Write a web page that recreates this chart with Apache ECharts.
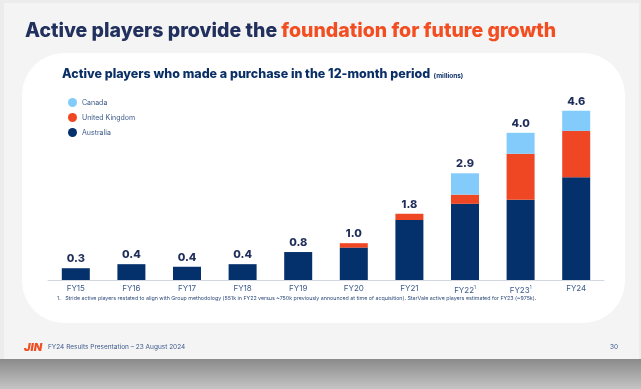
<!DOCTYPE html>
<html>
<head>
<meta charset="utf-8">
<script src="https://cdn.jsdelivr.net/npm/echarts@6/dist/echarts.min.js"></script>
<style>
  html, body { margin: 0; padding: 0; background: #ececec; }
  #chart { width: 641px; height: 389px; }
</style>
</head>
<body>
<div id="chart"></div>
<script>
// Financial years on the x axis (a trailing "1" marks the footnote)
const years = ['FY15', 'FY16', 'FY17', 'FY18', 'FY19', 'FY20', 'FY21', 'FY22', 'FY23', 'FY24'];
const footnoted = ['FY22', 'FY23'];

// Active players by region, millions
const australia = [0.32, 0.43, 0.36, 0.43, 0.76, 0.88, 1.63, 2.07, 2.18, 2.79];
const unitedKingdom = [0, 0, 0, 0, 0, 0.12, 0.17, 0.25, 1.25, 1.26];
const canada = [0, 0, 0, 0, 0, 0, 0, 0.58, 0.57, 0.55];

const totals = years.map((_, i) => australia[i] + unitedKingdom[i] + canada[i]);

const NAVY = '#04306b';
const ORANGE = '#ef4723';
const SKY = '#83cbfb';
const FONT = 'Inter, "Noto Sans", sans-serif';

const chart = echarts.init(document.getElementById('chart'), null, { renderer: 'canvas' });

chart.setOption({
  animation: false,
  backgroundColor: '#ececec',
  textStyle: { fontFamily: FONT },
  graphic: [
    // drop shadow under the slide
    { type: 'rect', z: -10, shape: { x: 0, y: 359, width: 641, height: 30 },
      style: { fill: new echarts.graphic.LinearGradient(0, 0, 0, 1, [
        { offset: 0, color: '#8a8a8a' }, { offset: 1, color: '#c4c4c4' }]) } },
    // slide
    { type: 'rect', z: -9, shape: { x: 4, y: 3, width: 635, height: 356 },
      style: { fill: '#f4f4f4' } },
    // white panel
    { type: 'rect', z: -8, shape: { x: 22, y: 53, width: 603, height: 270, r: 42 },
      style: { fill: '#ffffff' } },
    // heading
    { type: 'text', z: 5, left: 25, top: 21,
      style: { text: '{a|Active players provide the }{b|foundation for future growth}',
        rich: {
          a: { fontFamily: FONT, fontSize: 19.5, fontWeight: 800, fill: '#22305e' },
          b: { fontFamily: FONT, fontSize: 19.5, fontWeight: 800, fill: '#f24e22' }
        } } },
    // panel title
    { type: 'text', z: 5, left: 62, top: 68,
      style: { text: '{a|Active players who made a purchase in the 12-month period} {b|(millions)}',
        rich: {
          a: { fontFamily: FONT, fontSize: 12.5, fontWeight: 800, fill: '#0a2f66' },
          b: { fontFamily: FONT, fontSize: 6.5, fontWeight: 700, fill: '#0a2f66', padding: [4, 0, 0, 0] }
        } } },
    // footnote
    { type: 'text', z: 5, left: 57, top: 296,
      style: { text: '1.   Stride active players restated to align with Group methodology (551k in FY22 versus ~750k previously announced at time of acquisition). StarVale active players estimated for FY23 (~975k).',
        fontFamily: FONT, fontSize: 5.3, fill: '#2d4a7a' } },
    // footer logo mark
    { type: 'text', z: 5, left: 24, top: 342,
      style: { text: 'JIN', fontFamily: FONT, fontSize: 11, fontWeight: 900, fontStyle: 'italic', fill: '#f04e23' } },
    // footer caption
    { type: 'text', z: 5, left: 48, top: 344,
      style: { text: 'FY24 Results Presentation \u2013 23 August 2024', fontFamily: FONT, fontSize: 6.5, fill: '#3d5a8a' } },
    { type: 'text', z: 5, left: 610, top: 344,
      style: { text: '30', fontFamily: FONT, fontSize: 6.5, fill: '#3d5a8a' } }
  ],
  legend: {
    data: ['Canada', 'United Kingdom', 'Australia'],
    orient: 'vertical',
    left: 63, top: 93,
    icon: 'circle',
    itemWidth: 9, itemHeight: 9, itemGap: 6,
    textStyle: { fontFamily: FONT, fontSize: 7, color: '#3d5a8a' },
    selectedMode: false
  },
  grid: { left: 48, right: 37, top: 96, bottom: 109, containLabel: false },
  xAxis: {
    type: 'category',
    data: years,
    axisTick: { show: false },
    axisLine: { lineStyle: { color: '#d3d8e0', width: 1 } },
    axisLabel: {
      margin: 5,
      fontFamily: FONT, fontSize: 8, color: '#3d5a8a',
      formatter: v => footnoted.includes(v) ? v + '{s|1}' : v,
      rich: { s: { fontSize: 4.5, color: '#3d5a8a', verticalAlign: 'top', padding: [0, 0, 6, 0] } }
    }
  },
  yAxis: { type: 'value', min: 0, max: 5, show: false, splitLine: { show: false } },
  series: [
    { name: 'Australia', type: 'bar', stack: 'players', barWidth: 28,
      itemStyle: { color: NAVY }, data: australia },
    { name: 'United Kingdom', type: 'bar', stack: 'players', barWidth: 28,
      itemStyle: { color: ORANGE }, data: unitedKingdom },
    { name: 'Canada', type: 'bar', stack: 'players', barWidth: 28,
      itemStyle: { color: SKY }, data: canada },
    // zero-height cap carrying the total label
    { name: 'Total', type: 'bar', stack: 'players', barWidth: 28,
      itemStyle: { color: 'transparent' },
      data: years.map(() => 0),
      label: {
        show: true, position: 'top', distance: 4,
        fontFamily: FONT, fontSize: 11, fontWeight: 800, color: '#1f2d5a',
        formatter: p => totals[p.dataIndex].toFixed(1)
      } }
  ]
});
</script>
</body>
</html>
